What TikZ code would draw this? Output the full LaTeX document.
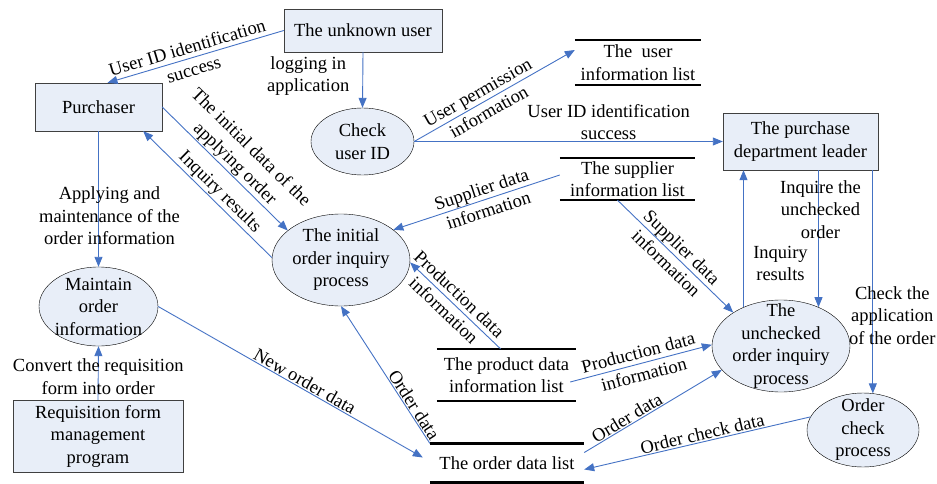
\documentclass[tikz,border=0pt]{standalone}
\usepackage{fontspec}
\setmainfont{Liberation Serif}
\usetikzlibrary{shapes.geometric,arrows.meta}
\definecolor{flowblue}{RGB}{68,114,196}
\definecolor{boxfill}{RGB}{232,238,248}
\tikzset{
  entity/.style={draw=black!75, fill=boxfill, align=center, inner sep=2pt},
  proc/.style={ellipse, draw=black, fill=boxfill, inner sep=0pt},
  store/.style={align=center, inner sep=0pt},
  storeline/.style={black, line width=2.5pt},
  flow/.style={draw=flowblue, line width=0.9pt, -{Triangle[length=10pt,width=8pt]}},
  lbl/.style={align=center, inner sep=1pt, text=black}
}

\begin{document}
\begin{tikzpicture}[x=1pt, y=-1pt, font=\fontsize{18.5}{22.5}\selectfont]
  \useasboundingbox (0,0) rectangle (937,484);
  % external entities
  \node[entity, minimum width=158pt, minimum height=43pt] (unknown) at (363,30.5) {The unknown user};
  \node[entity, minimum width=127pt, minimum height=48pt] (purch) at (98.5,107) {Purchaser};
  \node[entity, minimum width=155pt, minimum height=57pt] (leader) at (800.5,141.5) {The purchase\\department leader};
  \node[entity, minimum width=170pt, minimum height=72pt] (req) at (98,436) {Requisition form\\management\\program};
  % processes
  \node[proc, minimum width=103pt, minimum height=67pt] (check) at (362.5,141.5) {};
  \node[lbl] (checktxt) at (check) {Check\\user ID};
  \node[proc, minimum width=138pt, minimum height=92pt] (initial) at (341,260) {};
  \node[lbl] (initialtxt) at (initial) {The initial\\order inquiry\\process};
  \node[proc, minimum width=119pt, minimum height=79pt] (maint) at (98.5,306.5) {};
  \node[lbl] (mainttxt) at (maint) {Maintain\\order\\information};
  \node[proc, minimum width=138pt, minimum height=92pt] (unchecked) at (781,346) {};
  \node[lbl] (uncheckedtxt) at (unchecked) {The\\unchecked\\order inquiry\\process};
  \node[proc, minimum width=112pt, minimum height=74pt] (ordcheck) at (863,430) {};
  \node[lbl] (ordchecktxt) at (ordcheck) {Order\\check\\process};
  % data stores
  \node[store, minimum width=126pt, minimum height=45pt] (userlist) at (638,62.5) {The~ user\\information list};
  \node[store, minimum width=135pt, minimum height=42pt] (supplist) at (627.5,179) {The supplier\\information list};
  \node[store, minimum width=139pt, minimum height=52pt] (prodlist) at (506.5,375) {The product data\\information list};
  \node[store, minimum width=154pt, minimum height=39pt] (orderlist) at (507,463) {The order data list};
  \foreach \s in {userlist,supplist,prodlist,orderlist}
    \draw[storeline] (\s.north west) -- (\s.north east) (\s.south west) -- (\s.south east);
  % data flows
  \draw[flow] (unknown.west) -- node[lbl, sloped, pos=.53] {User ID identification\\success} ([xshift=9pt]purch.north);
  \draw[flow] (unknown.south) -- node[lbl, left=12pt, pos=.43] {logging in\\application} (check.north);
  \draw[flow] (check.east) -- node[lbl, sloped, pos=.43] {User permission\\information} ([yshift=12.5pt]userlist.west);
  \draw[flow] (check.east) -- node[lbl, above, pos=.63] {User ID identification\\success} (leader.west);
  \draw[flow] (purch.east) -- node[lbl, sloped, above, pos=.52] {The initial data of the\\applying order} (initial.151);
  \draw[flow] (initial.178) -- node[lbl, sloped, above, pos=.46] {Inquiry results} ([xshift=-19pt]purch.south east);
  \draw[flow] (purch.south) -- node[lbl, pos=.625, xshift=11pt] {Applying and\\maintenance of the\\order information} (maint.north);
  \draw[flow] (req.north) -- node[lbl, pos=.43] {Convert the requisition\\form into order} (maint.south);
  \draw[flow] (maint.east) -- node[lbl, sloped, above, pos=.54] {New order data} ([xshift=-7pt,yshift=5.5pt]orderlist.west);
  \draw[flow] (orderlist.north west) -- node[lbl, sloped, above, pos=.25] {Order data} (initial.south);
  \draw[flow] ([xshift=-6pt]prodlist.north) -- node[lbl, sloped, pos=.54] {Production data\\information} (initial.358);
  \draw[flow] ([yshift=4pt]supplist.west) -- node[lbl, sloped, pos=.45] {Supplier data\\information} (initial.30);
  \draw[flow] ([xshift=-10pt]supplist.south) -- node[lbl, sloped, pos=.49] {Supplier data\\information} (unchecked.145);
  \draw[flow] ([xshift=-6pt,yshift=-7pt]prodlist.east) -- node[lbl, sloped, pos=.5] {Production data\\information} (unchecked.179);
  \draw[flow] ([yshift=10.5pt]orderlist.east) -- node[lbl, sloped, above, pos=.34] {Order data} (unchecked.202);
  \draw[flow] (ordcheck.166) -- node[lbl, sloped, above, pos=.47] {Order check data} ([yshift=-6.5pt]orderlist.east);
  \draw[flow] (unchecked.134) -- node[lbl, pos=.32, xshift=37pt] {Inquiry\\results} (unchecked.134 |- leader.south);
  \draw[flow] (unchecked.46 |- leader.south) -- node[lbl, pos=.285, xshift=2pt] {Inquire the\\unchecked\\order} (unchecked.46);
  \draw[flow] (ordcheck.75 |- leader.south) -- node[lbl, pos=.65, xshift=19.5pt] {Check the\\application\\of the order} (ordcheck.75);
\end{tikzpicture}
\end{document}
